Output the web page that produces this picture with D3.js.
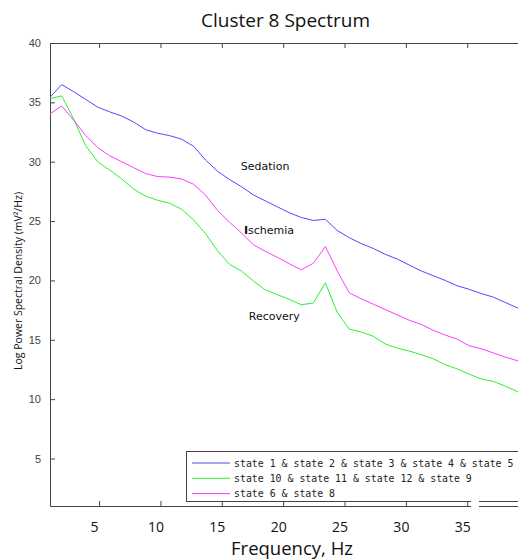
<!DOCTYPE html>
<html>
<head>
<meta charset="utf-8">
<script src="https://cdn.jsdelivr.net/npm/d3@7"></script>
<style>
  body { margin: 0; background: #fff; }
  svg { display: block; }
</style>
</head>
<body>
<svg id="chart"></svg>
<script>
// frequency bins (Hz)
const freqs = [0.98, 1.95, 2.93, 3.91, 4.88, 5.86, 6.84, 7.81, 8.79, 9.77,
  10.74, 11.72, 12.70, 13.67, 14.65, 15.63, 16.60, 17.58, 18.55, 19.53,
  20.51, 21.48, 22.46, 23.44, 24.41, 25.39, 26.37, 27.34, 28.32, 29.30,
  30.27, 31.25, 32.23, 33.20, 34.18, 35.16, 36.13, 37.11, 38.09, 39.06, 40.04];

// sedation: state 1 & 2 & 3 & 4 & 5
const sedation = [35.4, 36.5, 35.9, 35.25, 34.6, 34.2, 33.85, 33.35, 32.7, 32.4,
  32.2, 31.9, 31.3, 30.15, 29.2, 28.5, 27.9, 27.2, 26.7, 26.2,
  25.7, 25.3, 25.05, 25.15, 24.2, 23.6, 23.1, 22.7, 22.2, 21.8,
  21.3, 20.8, 20.4, 20.0, 19.55, 19.25, 18.9, 18.6, 18.15, 17.7, 17.25];

// recovery: state 10 & 11 & 12 & 9
const recovery = [35.3, 35.55, 33.6, 31.35, 30.0, 29.3, 28.55, 27.7, 27.1, 26.75,
  26.5, 26.0, 25.1, 23.95, 22.5, 21.35, 20.8, 19.95, 19.2, 18.8,
  18.4, 17.95, 18.1, 19.8, 17.3, 15.9, 15.65, 15.3, 14.65, 14.3,
  14.05, 13.75, 13.4, 12.9, 12.55, 12.1, 11.7, 11.5, 11.1, 10.65, 10.2];

// ischemia: state 6 & 8
const ischemia = [34.0, 34.7, 33.5, 32.2, 31.2, 30.5, 30.0, 29.5, 29.0, 28.75,
  28.7, 28.55, 28.1, 27.2, 25.9, 24.9, 24.0, 23.0, 22.45, 21.95,
  21.4, 20.9, 21.45, 22.85, 20.8, 18.95, 18.45, 18.0, 17.55, 17.1,
  16.65, 16.3, 15.8, 15.4, 15.05, 14.5, 14.25, 13.9, 13.55, 13.25, 12.9];

const seriesNames = ["state 1 & state 2 & state 3 & state 4 & state 5",
  "state 10 & state 11 & state 12 & state 9",
  "state 6 & state 8"];
const seriesColors = ["#4b4bff", "#2df02d", "#ff3cff"];
const seriesValues = [sedation, recovery, ischemia];

const xTicks = [5, 10, 15, 20, 25, 30, 35];
const yTicks = [5, 10, 15, 20, 25, 30, 35, 40];

const annotations = [
  { text: "Sedation", f: 16.55, v: 29.3 },
  { text: "Ischemia", f: 16.8, v: 23.9 },
  { text: "Recovery", f: 17.2, v: 16.66 }
];

const svgWidth = 518, svgHeight = 559;
const margin = { top: 43, right: -2, bottom: 53, left: 50 };
const width = svgWidth - margin.left - margin.right;
const height = svgHeight - margin.top - margin.bottom;

const svg = d3.select("#chart")
  .attr("width", svgWidth)
  .attr("height", svgHeight);

const x = d3.scaleLinear().domain([1, 39.3]).range([0, width]);
const y = d3.scaleLinear().domain([1, 40]).range([height, 0]);

svg.append("defs").append("clipPath").attr("id", "plot-clip")
  .append("rect").attr("width", width).attr("height", height);

const g = svg.append("g")
  .attr("transform", "translate(" + margin.left + "," + margin.top + ")");

const axisColor = "#444";

// bottom axis
const xAxis = g.append("g")
  .attr("transform", "translate(0," + height + ")")
  .call(d3.axisBottom(x).tickValues(xTicks).tickSizeInner(-5).tickSizeOuter(0).tickPadding(16));
xAxis.select(".domain").attr("stroke", axisColor);
xAxis.selectAll(".tick line").attr("stroke", axisColor);
xAxis.selectAll(".tick text")
  .attr("dx", -5)
  .attr("fill", "#111")
  .style("font-family", "'Open Sans', sans-serif")
  .style("font-size", "14px");

// top axis (ticks only)
const xTop = g.append("g")
  .call(d3.axisTop(x).tickValues(xTicks).tickSizeInner(-5).tickSizeOuter(0).tickFormat(""));
xTop.select(".domain").attr("stroke", axisColor);
xTop.selectAll(".tick line").attr("stroke", axisColor);

// left axis
const yAxis = g.append("g")
  .call(d3.axisLeft(y).tickValues(yTicks).tickSizeInner(-5).tickSizeOuter(0).tickPadding(9));
yAxis.select(".domain").attr("stroke", axisColor);
yAxis.selectAll(".tick line").attr("stroke", axisColor);
yAxis.selectAll(".tick text")
  .attr("fill", "#444")
  .style("font-family", "'Liberation Sans', Arial, sans-serif")
  .style("font-size", "11px");

// lines
const line = d3.line()
  .x((d, i) => x(freqs[i]))
  .y(d => y(d));

const plot = g.append("g").attr("clip-path", "url(#plot-clip)");
seriesValues.forEach((vals, i) => {
  plot.append("path")
    .datum(vals)
    .attr("fill", "none")
    .attr("stroke", seriesColors[i])
    .attr("stroke-width", 1)
    .attr("d", line);
});

// annotations
annotations.forEach(a => {
  const t = g.append("text")
    .attr("x", x(a.f))
    .attr("y", y(a.v))
    .style("font-family", "'DejaVu Sans', sans-serif")
    .style("font-size", "11px")
    .attr("fill", "#111");
  if (a.text === "Ischemia") {
    t.append("tspan").style("font-weight", "bold").text("I");
    t.append("tspan").text("schemia");
  } else {
    t.text(a.text);
  }
});

// legend
const legend = svg.append("g").attr("transform", "translate(186,451)");
legend.append("rect")
  .attr("x", 0.5).attr("y", 0.5)
  .attr("width", 340).attr("height", 50)
  .attr("fill", "#fff")
  .attr("stroke", axisColor);
seriesNames.forEach((name, i) => {
  const ly = 12 + i * 15.3;
  legend.append("line")
    .attr("x1", 6).attr("x2", 44)
    .attr("y1", ly).attr("y2", ly)
    .attr("stroke", seriesColors[i]);
  legend.append("text")
    .attr("x", 48).attr("y", ly + 3.5)
    .attr("fill", "#222")
    .style("font-family", "'DejaVu Sans Mono', monospace")
    .style("font-size", "9.9px")
    .text(name);
});

// small break in the frame near the right edge
svg.append("rect")
  .attr("x", 471).attr("y", 499)
  .attr("width", 8).attr("height", 9)
  .attr("fill", "#fff");

// title and axis labels
svg.append("text")
  .attr("x", 285.5).attr("y", 27)
  .attr("text-anchor", "middle")
  .style("font-family", "'Open Sans', sans-serif")
  .style("font-size", "19px")
  .attr("fill", "#111")
  .text("Cluster 8 Spectrum");

svg.append("text")
  .attr("x", 292).attr("y", 555)
  .attr("text-anchor", "middle")
  .style("font-family", "'Open Sans', sans-serif")
  .style("font-size", "18.5px")
  .attr("fill", "#111")
  .text("Frequency, Hz");

svg.append("text")
  .attr("transform", "rotate(-90)")
  .attr("x", -281).attr("y", 22)
  .attr("text-anchor", "middle")
  .style("font-family", "'Open Sans', sans-serif")
  .style("font-size", "10.5px")
  .attr("fill", "#111")
  .text("Log Power Spectral Density (mV²/Hz)");
</script>
</body>
</html>
